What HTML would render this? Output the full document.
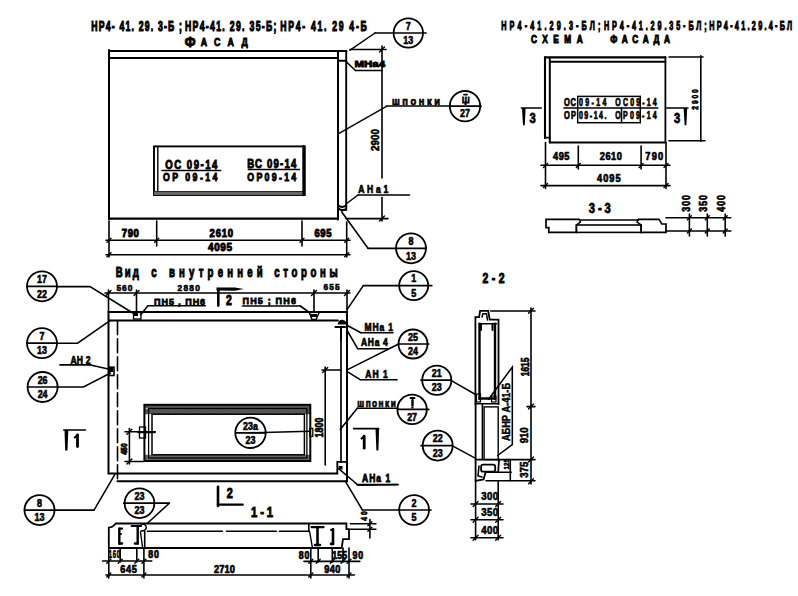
<!DOCTYPE html>
<html><head><meta charset="utf-8"><style>
html,body{margin:0;padding:0;background:#fff;}
svg{display:block;}
text{font-family:"Liberation Sans",sans-serif;font-weight:bold;fill:#000;}
</style></head><body>
<svg width="798" height="596" viewBox="0 0 798 596" stroke="#000" stroke-linecap="round" fill="none">
<rect x="0" y="0" width="798" height="596" fill="#fff" stroke="none"/>
<text x="0" y="0" font-size="14" text-anchor="middle" stroke-width="1.1" textLength="146.1" lengthAdjust="spacing" transform="translate(136.6 26.0) translate(0 4.90) scale(0.62 1)">НР4- 41. 29. 3-Б ;</text>
<text x="0" y="0" font-size="14" text-anchor="middle" stroke-width="1.1" textLength="147.6" lengthAdjust="spacing" transform="translate(230.7 26.0) translate(0 4.90) scale(0.62 1)">НР4-41. 29. 35-Б;</text>
<text x="0" y="0" font-size="14" text-anchor="middle" stroke-width="1.1" textLength="139.4" lengthAdjust="spacing" transform="translate(323.5 26.0) translate(0 4.90) scale(0.62 1)">НР4- 41. 29 4-Б</text>
<text x="0" y="0" font-size="14" text-anchor="middle" stroke-width="1" textLength="11.1" lengthAdjust="spacing" transform="translate(190.0 42.0) translate(0 4.90) scale(0.9 1)">Ф</text>
<text x="0" y="0" font-size="11" text-anchor="middle" stroke-width="0.9" textLength="58.8" lengthAdjust="spacing" transform="translate(224.2 42.6) translate(0 3.85) scale(0.8 1)">АСАД</text>
<line x1="109.0" y1="51.0" x2="346.5" y2="51.0" stroke-width="2"/>
<line x1="109.0" y1="57.9" x2="338.0" y2="57.9" stroke-width="2"/>
<line x1="109.0" y1="50.0" x2="109.0" y2="219.6" stroke-width="2"/>
<line x1="109.0" y1="218.6" x2="338.0" y2="218.6" stroke-width="2.2"/>
<line x1="338.0" y1="51.0" x2="338.0" y2="219.6" stroke-width="2"/>
<line x1="346.2" y1="51.0" x2="346.2" y2="210.0" stroke-width="1.9"/>
<path d="M338,205.3 Q342,208.6 346.3,205.3" stroke-width="1.8" fill="none"/>
<path d="M338.5,208.6 Q342,211.2 346,209.3" stroke-width="2.2" fill="none"/>
<rect x="154.0" y="146.4" width="150.8" height="48.6" stroke-width="1.9" fill="none"/>
<line x1="157.8" y1="146.4" x2="157.8" y2="195.0" stroke-width="1.4"/>
<line x1="154.0" y1="191.6" x2="304.8" y2="191.6" stroke-width="1.4"/>
<rect x="154.0" y="191.6" width="150.8" height="3.4" stroke="none" fill="#666"/>
<line x1="303.6" y1="146.4" x2="303.6" y2="195.0" stroke-width="2.6"/>
<text x="0" y="0" font-size="12" text-anchor="middle" stroke-width="0.9" textLength="65.2" lengthAdjust="spacing" transform="translate(191.3 164.5) translate(0 4.20) scale(0.8 1)">ОС 09-14</text>
<line x1="162.0" y1="170.5" x2="220.6" y2="170.5" stroke-width="1.5"/>
<text x="0" y="0" font-size="11" text-anchor="middle" stroke-width="0.9" textLength="68.0" lengthAdjust="spacing" transform="translate(190.2 176.7) translate(0 3.85) scale(0.8 1)">ОР 09-14</text>
<text x="0" y="0" font-size="12" text-anchor="middle" stroke-width="0.9" textLength="61.2" lengthAdjust="spacing" transform="translate(271.8 163.8) translate(0 4.20) scale(0.8 1)">ВС 09-14</text>
<line x1="248.3" y1="169.4" x2="299.5" y2="169.4" stroke-width="1.5"/>
<text x="0" y="0" font-size="11" text-anchor="middle" stroke-width="0.9" textLength="61.2" lengthAdjust="spacing" transform="translate(271.8 176.7) translate(0 3.85) scale(0.8 1)">ОР09-14</text>
<line x1="109.0" y1="221.3" x2="109.0" y2="257.0" stroke-width="1.6"/>
<line x1="156.7" y1="221.0" x2="156.7" y2="246.0" stroke-width="1.6"/>
<line x1="302.0" y1="221.0" x2="302.0" y2="246.0" stroke-width="1.6"/>
<line x1="346.7" y1="222.0" x2="346.7" y2="257.0" stroke-width="1.6"/>
<line x1="106.0" y1="240.2" x2="350.0" y2="240.2" stroke-width="1.6"/>
<line x1="106.0" y1="254.8" x2="350.0" y2="254.8" stroke-width="1.6"/>
<line x1="107.0" y1="242.2" x2="111.0" y2="238.2" stroke-width="1.4"/>
<line x1="154.7" y1="242.2" x2="158.7" y2="238.2" stroke-width="1.4"/>
<line x1="300.0" y1="242.2" x2="304.0" y2="238.2" stroke-width="1.4"/>
<line x1="344.7" y1="242.2" x2="348.7" y2="238.2" stroke-width="1.4"/>
<line x1="107.0" y1="256.8" x2="111.0" y2="252.8" stroke-width="1.4"/>
<line x1="344.7" y1="256.8" x2="348.7" y2="252.8" stroke-width="1.4"/>
<text x="0" y="0" font-size="10" text-anchor="middle" stroke-width="0.9" textLength="17.9" lengthAdjust="spacing" transform="translate(130.3 233.5) translate(0 3.50) scale(0.95 1)">790</text>
<text x="0" y="0" font-size="10" text-anchor="middle" stroke-width="0.9" textLength="24.7" lengthAdjust="spacing" transform="translate(221.3 233.5) translate(0 3.50) scale(0.95 1)">2610</text>
<text x="0" y="0" font-size="10" text-anchor="middle" stroke-width="0.9" textLength="17.9" lengthAdjust="spacing" transform="translate(323.0 233.5) translate(0 3.50) scale(0.95 1)">695</text>
<text x="0" y="0" font-size="10.5" text-anchor="middle" stroke-width="0.9" textLength="25.3" lengthAdjust="spacing" transform="translate(220.0 247.7) translate(0 3.67) scale(0.95 1)">4095</text>
<line x1="350.0" y1="49.5" x2="386.0" y2="49.5" stroke-width="1.6"/>
<line x1="346.0" y1="218.6" x2="388.0" y2="218.6" stroke-width="1.6"/>
<line x1="382.0" y1="46.0" x2="382.0" y2="178.0" stroke-width="1.6"/>
<line x1="382.0" y1="197.5" x2="382.0" y2="221.0" stroke-width="1.6"/>
<line x1="379.5" y1="52.0" x2="384.5" y2="47.0" stroke-width="1.4"/>
<line x1="379.5" y1="221.1" x2="384.5" y2="216.1" stroke-width="1.4"/>
<text x="0" y="0" font-size="11" text-anchor="middle" stroke-width="0.6" textLength="25.0" lengthAdjust="spacing" transform="translate(375.6 140.0) rotate(-90) translate(0 3.85) scale(0.88 1)">2900</text>
<circle cx="408.3" cy="33.0" r="14.7" stroke-width="1.8" fill="none"/>
<line x1="375.0" y1="33.0" x2="426.0" y2="33.0" stroke-width="1.7"/>
<text x="0" y="0" font-size="10.5" text-anchor="middle" stroke-width="0.6" transform="translate(408.3 26.2) translate(0 3.67) scale(0.85 1)">7</text>
<text x="0" y="0" font-size="10.5" text-anchor="middle" stroke-width="0.6" transform="translate(408.3 40.6) translate(0 3.67) scale(0.85 1)">13</text>
<line x1="375.0" y1="33.0" x2="350.0" y2="50.2" stroke-width="1.5"/>
<text x="0" y="0" font-size="9.5" text-anchor="middle" stroke-width="0.9" textLength="30.5" lengthAdjust="spacingAndGlyphs" transform="translate(369.8 63.3) translate(0 3.32) scale(1 1)">МНа4</text>
<line x1="338.0" y1="60.8" x2="346.2" y2="60.8" stroke-width="2"/>
<line x1="355.5" y1="70.5" x2="382.0" y2="70.5" stroke-width="1.6"/>
<line x1="355.5" y1="70.5" x2="346.0" y2="61.5" stroke-width="1.55"/>
<text x="0" y="0" font-size="11" text-anchor="middle" stroke-width="0.7" textLength="56.5" lengthAdjust="spacing" transform="translate(416.0 100.7) translate(0 3.85) scale(0.85 1)">шпонки</text>
<line x1="386.5" y1="106.0" x2="450.0" y2="106.0" stroke-width="1.6"/>
<line x1="386.5" y1="106.3" x2="338.2" y2="133.8" stroke-width="1.4"/>
<circle cx="465.0" cy="106.2" r="15.2" stroke-width="1.8" fill="none"/>
<line x1="450.0" y1="106.2" x2="481.0" y2="106.2" stroke-width="1.7"/>
<text x="0" y="0" font-size="10.5" text-anchor="middle" stroke-width="0.6" transform="translate(465.0 99.4) translate(0 3.67) scale(0.85 1)"></text>
<text x="0" y="0" font-size="10.5" text-anchor="middle" stroke-width="0.6" transform="translate(465.0 113.8) translate(0 3.67) scale(0.85 1)">27</text>
<text x="0" y="0" font-size="9.5" text-anchor="middle" stroke-width="0.8" textLength="9.0" lengthAdjust="spacing" transform="translate(465.8 99.8) translate(0 3.32) scale(0.8 1)">Ш</text>
<line x1="464.0" y1="94.6" x2="467.0" y2="94.6" stroke-width="1.8"/>
<rect x="464.5" y="103.0" width="2.0" height="2.0" stroke="none" fill="#000"/>
<text x="0" y="0" font-size="10" text-anchor="middle" stroke-width="0.7" textLength="35.3" lengthAdjust="spacing" transform="translate(373.2 189.3) translate(0 3.50) scale(0.85 1)">АНа1</text>
<line x1="358.0" y1="195.0" x2="409.5" y2="195.0" stroke-width="1.6"/>
<line x1="358.0" y1="195.0" x2="346.0" y2="204.0" stroke-width="1.55"/>
<circle cx="411.0" cy="248.3" r="15" stroke-width="1.8" fill="none"/>
<line x1="368.0" y1="248.3" x2="426.0" y2="248.3" stroke-width="1.7"/>
<text x="0" y="0" font-size="10.5" text-anchor="middle" stroke-width="0.6" transform="translate(411.0 241.5) translate(0 3.67) scale(0.85 1)">8</text>
<text x="0" y="0" font-size="10.5" text-anchor="middle" stroke-width="0.6" transform="translate(411.0 255.9) translate(0 3.67) scale(0.85 1)">13</text>
<line x1="368.0" y1="248.3" x2="341.6" y2="211.8" stroke-width="1.55"/>
<text x="0" y="0" font-size="12.5" text-anchor="middle" stroke-width="1" textLength="170.7" lengthAdjust="spacing" transform="translate(550.8 25.5) translate(0 4.38) scale(0.58 1)">НР4-41.29.3-БЛ;</text>
<text x="0" y="0" font-size="12.5" text-anchor="middle" stroke-width="1" textLength="177.1" lengthAdjust="spacing" transform="translate(655.3 25.5) translate(0 4.38) scale(0.58 1)">НР4-41.29.35-БЛ;</text>
<text x="0" y="0" font-size="12.5" text-anchor="middle" stroke-width="1" textLength="143.1" lengthAdjust="spacing" transform="translate(750.7 25.5) translate(0 4.38) scale(0.58 1)">НР4-41.29.4-БЛ</text>
<text x="0" y="0" font-size="11.5" text-anchor="middle" stroke-width="1" textLength="71.8" lengthAdjust="spacing" transform="translate(556.8 39.3) translate(0 4.02) scale(0.72 1)">СХЕМА</text>
<text x="0" y="0" font-size="11.5" text-anchor="middle" stroke-width="1" textLength="82.9" lengthAdjust="spacing" transform="translate(640.2 39.3) translate(0 4.02) scale(0.72 1)">ФАСАДА</text>
<line x1="545.0" y1="57.4" x2="665.4" y2="57.4" stroke-width="2.1"/>
<line x1="550.0" y1="61.8" x2="665.4" y2="61.8" stroke-width="2"/>
<line x1="545.0" y1="57.4" x2="545.0" y2="138.0" stroke-width="2.1"/>
<line x1="549.8" y1="57.4" x2="549.8" y2="142.5" stroke-width="2"/>
<line x1="545.0" y1="137.7" x2="549.8" y2="137.7" stroke-width="1.8"/>
<line x1="665.4" y1="57.0" x2="665.4" y2="142.5" stroke-width="1.8"/>
<line x1="550.0" y1="142.5" x2="665.4" y2="142.5" stroke-width="1.8"/>
<line x1="669.0" y1="57.0" x2="703.0" y2="57.0" stroke-width="1.6"/>
<line x1="669.0" y1="140.7" x2="705.0" y2="140.7" stroke-width="1.6"/>
<line x1="700.8" y1="55.7" x2="700.8" y2="141.3" stroke-width="1.6"/>
<text x="0" y="0" font-size="8.5" text-anchor="middle" stroke-width="0.7" textLength="25.6" lengthAdjust="spacing" transform="translate(694.8 99.4) rotate(-90) translate(0 2.97) scale(0.8 1)">2900</text>
<rect x="577.7" y="96.4" width="62.6" height="26.3" stroke-width="1.5" fill="none"/>
<line x1="621.5" y1="108.0" x2="621.5" y2="122.7" stroke-width="1.55"/>
<line x1="563.9" y1="108.1" x2="657.9" y2="108.1" stroke-width="1.5"/>
<text x="0" y="0" font-size="10" text-anchor="middle" stroke-width="0.7" textLength="16.0" lengthAdjust="spacing" transform="translate(570.0 102.6) translate(0 3.50) scale(0.75 1)">ОС</text>
<text x="0" y="0" font-size="10" text-anchor="middle" stroke-width="0.7" textLength="39.4" lengthAdjust="spacing" transform="translate(592.7 102.6) translate(0 3.50) scale(0.7 1)">09-14</text>
<text x="0" y="0" font-size="10" text-anchor="middle" stroke-width="0.7" textLength="59.0" lengthAdjust="spacing" transform="translate(636.0 102.6) translate(0 3.50) scale(0.7 1)">ОС09-14</text>
<text x="0" y="0" font-size="10" text-anchor="middle" stroke-width="0.7" textLength="16.0" lengthAdjust="spacing" transform="translate(570.0 115.7) translate(0 3.50) scale(0.75 1)">ОР</text>
<text x="0" y="0" font-size="10" text-anchor="middle" stroke-width="0.7" textLength="39.4" lengthAdjust="spacing" transform="translate(592.7 115.7) translate(0 3.50) scale(0.7 1)">09-14.</text>
<text x="0" y="0" font-size="10" text-anchor="middle" stroke-width="0.7" textLength="59.0" lengthAdjust="spacing" transform="translate(636.0 115.7) translate(0 3.50) scale(0.7 1)">ОР09-14</text>
<line x1="521.3" y1="108.1" x2="541.3" y2="108.1" stroke-width="1.5"/>
<path d="M522,108 L525.6,108 L524.8,125.2 L523,125.2 Z" fill="#000" stroke="none"/>
<text x="0" y="0" font-size="14" text-anchor="middle" stroke-width="0.8" textLength="8.8" lengthAdjust="spacing" transform="translate(532.5 117.7) translate(0 4.90) scale(0.8 1)">3</text>
<line x1="666.6" y1="108.1" x2="688.0" y2="108.1" stroke-width="1.5"/>
<path d="M683.6,108 L687.2,108 L686.4,125.2 L684.6,125.2 Z" fill="#000" stroke="none"/>
<text x="0" y="0" font-size="14" text-anchor="middle" stroke-width="0.8" textLength="8.8" lengthAdjust="spacing" transform="translate(677.0 117.7) translate(0 4.90) scale(0.8 1)">3</text>
<line x1="545.5" y1="142.5" x2="545.5" y2="188.5" stroke-width="1.6"/>
<line x1="578.3" y1="146.0" x2="578.3" y2="169.0" stroke-width="1.6"/>
<line x1="641.1" y1="146.0" x2="641.1" y2="169.0" stroke-width="1.6"/>
<line x1="666.0" y1="142.5" x2="666.0" y2="188.5" stroke-width="1.6"/>
<line x1="541.0" y1="165.2" x2="670.0" y2="165.2" stroke-width="1.6"/>
<line x1="541.0" y1="185.6" x2="670.0" y2="185.6" stroke-width="1.6"/>
<line x1="543.5" y1="167.4" x2="547.5" y2="163.4" stroke-width="1.4"/>
<line x1="576.3" y1="167.4" x2="580.3" y2="163.4" stroke-width="1.4"/>
<line x1="639.1" y1="167.4" x2="643.1" y2="163.4" stroke-width="1.4"/>
<line x1="664.0" y1="167.4" x2="668.0" y2="163.4" stroke-width="1.4"/>
<line x1="543.5" y1="187.6" x2="547.5" y2="183.6" stroke-width="1.4"/>
<line x1="664.0" y1="187.6" x2="668.0" y2="183.6" stroke-width="1.4"/>
<text x="0" y="0" font-size="10.5" text-anchor="middle" stroke-width="0.7" textLength="18.9" lengthAdjust="spacing" transform="translate(561.2 156.5) translate(0 3.67) scale(0.88 1)">495</text>
<text x="0" y="0" font-size="10.5" text-anchor="middle" stroke-width="0.7" textLength="25.0" lengthAdjust="spacing" transform="translate(610.8 156.5) translate(0 3.67) scale(0.88 1)">2610</text>
<text x="0" y="0" font-size="10.5" text-anchor="middle" stroke-width="0.7" textLength="20.3" lengthAdjust="spacing" transform="translate(654.2 156.5) translate(0 3.67) scale(0.88 1)">790</text>
<text x="0" y="0" font-size="10.5" text-anchor="middle" stroke-width="0.7" textLength="26.7" lengthAdjust="spacing" transform="translate(608.8 178.6) translate(0 3.67) scale(0.88 1)">4095</text>
<text x="0" y="0" font-size="14" text-anchor="middle" stroke-width="0.8" textLength="27.5" lengthAdjust="spacing" transform="translate(599.8 208.2) translate(0 4.90) scale(0.8 1)">3-3</text>
<polyline points="579.1,219.4 546.0,219.4 546.0,227.7 548.8,227.7 548.8,232.4 576.4,232.4" stroke-width="1.7" fill="none"/>
<polyline points="579.1,219.4 580.5,222.0 576.4,225.0 576.4,232.4" stroke-width="1.5" fill="none"/>
<line x1="580.5" y1="220.0" x2="638.5" y2="220.0" stroke-width="1.4"/>
<rect x="576.4" y="225.0" width="64.7" height="7.4" stroke-width="1.6" fill="none"/>
<polyline points="638.5,219.4 659.0,219.4 661.8,224.0 666.0,224.0 666.0,232.4 641.1,232.4" stroke-width="1.7" fill="none"/>
<polyline points="638.5,219.4 637.0,222.0 641.1,225.0 641.1,232.4" stroke-width="1.5" fill="none"/>
<line x1="666.0" y1="217.7" x2="730.8" y2="217.7" stroke-width="1.6"/>
<line x1="666.0" y1="231.0" x2="730.8" y2="231.0" stroke-width="1.6"/>
<line x1="689.4" y1="214.0" x2="689.4" y2="236.0" stroke-width="1.6"/>
<line x1="687.4" y1="219.7" x2="691.4" y2="215.7" stroke-width="1.4"/>
<line x1="687.4" y1="233.0" x2="691.4" y2="229.0" stroke-width="1.4"/>
<line x1="707.3" y1="214.0" x2="707.3" y2="236.0" stroke-width="1.6"/>
<line x1="705.3" y1="219.7" x2="709.3" y2="215.7" stroke-width="1.4"/>
<line x1="705.3" y1="233.0" x2="709.3" y2="229.0" stroke-width="1.4"/>
<line x1="725.2" y1="214.0" x2="725.2" y2="236.0" stroke-width="1.6"/>
<line x1="723.2" y1="219.7" x2="727.2" y2="215.7" stroke-width="1.4"/>
<line x1="723.2" y1="233.0" x2="727.2" y2="229.0" stroke-width="1.4"/>
<text x="0" y="0" font-size="10" text-anchor="middle" stroke-width="0.7" textLength="18.8" lengthAdjust="spacing" transform="translate(686.1 203.4) rotate(-90) translate(0 3.50) scale(0.88 1)">300</text>
<text x="0" y="0" font-size="10" text-anchor="middle" stroke-width="0.7" textLength="18.8" lengthAdjust="spacing" transform="translate(703.7 203.4) rotate(-90) translate(0 3.50) scale(0.88 1)">350</text>
<text x="0" y="0" font-size="10" text-anchor="middle" stroke-width="0.7" textLength="18.8" lengthAdjust="spacing" transform="translate(721.9 203.4) rotate(-90) translate(0 3.50) scale(0.88 1)">400</text>
<text x="0" y="0" font-size="15.5" text-anchor="middle" stroke-width="1.1" textLength="37.1" lengthAdjust="spacing" transform="translate(127.3 271.2) translate(0 5.42) scale(0.62 1)">Вид</text>
<text x="0" y="0" font-size="15.5" text-anchor="middle" stroke-width="1.1" textLength="11.6" lengthAdjust="spacing" transform="translate(153.9 271.2) translate(0 5.42) scale(0.62 1)">с</text>
<text x="0" y="0" font-size="15.5" text-anchor="middle" stroke-width="1.1" textLength="151.1" lengthAdjust="spacing" transform="translate(215.8 271.2) translate(0 5.42) scale(0.62 1)">внутренней</text>
<text x="0" y="0" font-size="15.5" text-anchor="middle" stroke-width="1.1" textLength="102.3" lengthAdjust="spacing" transform="translate(306.0 271.2) translate(0 5.42) scale(0.62 1)">стороны</text>
<line x1="108.5" y1="312.0" x2="347.0" y2="312.0" stroke-width="2"/>
<line x1="109.0" y1="320.5" x2="338.0" y2="320.5" stroke-width="1.8"/>
<line x1="108.5" y1="312.0" x2="108.5" y2="473.5" stroke-width="2"/>
<line x1="117.5" y1="320.7" x2="117.5" y2="481.3" stroke-width="1.6" stroke-dasharray="14 4"/>
<line x1="108.5" y1="473.5" x2="337.3" y2="473.5" stroke-width="2"/>
<line x1="117.5" y1="481.3" x2="347.0" y2="481.3" stroke-width="2"/>
<line x1="347.0" y1="312.0" x2="347.0" y2="481.3" stroke-width="2"/>
<line x1="341.0" y1="328.0" x2="341.0" y2="462.0" stroke-width="1.7"/>
<polyline points="347.0,461.9 337.3,461.9 337.3,473.5" stroke-width="1.8" fill="none"/>
<rect x="338.5" y="466.0" width="4.0" height="3.5" stroke="none" fill="#000"/>
<path d="M337.5,324.5 Q338.5,319.8 342,319.8 Q345.5,320 346.8,323.5 L346.8,324.5 Z" fill="#000" stroke="none"/>
<line x1="335.5" y1="327.0" x2="345.0" y2="327.0" stroke-width="2.2"/>
<line x1="341.0" y1="328.0" x2="341.0" y2="340.0" stroke-width="1.8"/>
<line x1="105.0" y1="293.0" x2="350.0" y2="293.0" stroke-width="1.6"/>
<line x1="108.5" y1="290.0" x2="108.5" y2="312.0" stroke-width="1.6"/>
<line x1="106.0" y1="295.5" x2="111.0" y2="290.5" stroke-width="1.4"/>
<line x1="136.5" y1="290.0" x2="136.5" y2="312.0" stroke-width="1.6"/>
<line x1="134.0" y1="295.5" x2="139.0" y2="290.5" stroke-width="1.4"/>
<line x1="314.0" y1="290.0" x2="314.0" y2="312.0" stroke-width="1.6"/>
<line x1="311.5" y1="295.5" x2="316.5" y2="290.5" stroke-width="1.4"/>
<line x1="347.0" y1="290.0" x2="347.0" y2="312.0" stroke-width="1.6"/>
<line x1="344.5" y1="295.5" x2="349.5" y2="290.5" stroke-width="1.4"/>
<text x="0" y="0" font-size="9.5" text-anchor="middle" stroke-width="0.6" textLength="18.2" lengthAdjust="spacing" transform="translate(124.4 287.8) translate(0 3.32) scale(0.88 1)">560</text>
<text x="0" y="0" font-size="9.5" text-anchor="middle" stroke-width="0.6" textLength="25.6" lengthAdjust="spacing" transform="translate(188.7 287.8) translate(0 3.32) scale(0.88 1)">2880</text>
<text x="0" y="0" font-size="9.5" text-anchor="middle" stroke-width="0.6" textLength="18.2" lengthAdjust="spacing" transform="translate(331.6 287.0) translate(0 3.32) scale(0.88 1)">655</text>
<text x="0" y="0" font-size="9.5" text-anchor="middle" stroke-width="0.8" textLength="53.7" lengthAdjust="spacing" transform="translate(179.6 301.7) translate(0 3.32) scale(0.95 1)">ПН5 , ПН6</text>
<line x1="148.0" y1="305.8" x2="205.3" y2="305.8" stroke-width="1.6"/>
<line x1="148.0" y1="305.8" x2="140.6" y2="314.8" stroke-width="1.55"/>
<rect x="133.5" y="312.5" width="7.5" height="6.5" stroke-width="1.3" fill="none"/>
<rect x="134.0" y="312.5" width="4.0" height="3.5" stroke="none" fill="#000"/>
<text x="0" y="0" font-size="9.5" text-anchor="middle" stroke-width="0.8" textLength="56.3" lengthAdjust="spacing" transform="translate(269.2 300.8) translate(0 3.32) scale(0.95 1)">ПН5 ; ПН6</text>
<line x1="242.5" y1="306.0" x2="300.4" y2="306.0" stroke-width="1.6"/>
<line x1="300.4" y1="306.0" x2="310.0" y2="313.0" stroke-width="1.55"/>
<polyline points="309.5,313.0 312.0,319.5 316.0,319.5 319.0,313.0" stroke-width="1.5" fill="none"/>
<rect x="311.0" y="314.0" width="6.0" height="3.0" stroke="none" fill="#000"/>
<line x1="218.3" y1="289.0" x2="218.3" y2="305.6" stroke-width="2.6"/>
<path d="M216.5,287.4 L235,287.6 L243.7,289 L235,290.8 L216.5,290.6 Z" fill="#000" stroke="none"/>
<text x="0" y="0" font-size="14.5" text-anchor="middle" stroke-width="1" textLength="9.0" lengthAdjust="spacing" transform="translate(229.0 300.1) translate(0 5.07) scale(0.72 1)">2</text>
<circle cx="42.0" cy="286.3" r="15" stroke-width="1.8" fill="none"/>
<line x1="27.0" y1="286.3" x2="57.0" y2="286.3" stroke-width="1.7"/>
<text x="0" y="0" font-size="10.5" text-anchor="middle" stroke-width="0.6" transform="translate(42.0 279.5) translate(0 3.67) scale(0.85 1)">17</text>
<text x="0" y="0" font-size="10.5" text-anchor="middle" stroke-width="0.6" transform="translate(42.0 293.9) translate(0 3.67) scale(0.85 1)">22</text>
<polyline points="57.0,286.6 90.0,286.6 132.8,313.0" stroke-width="1.55" fill="none"/>
<circle cx="42.0" cy="343.2" r="15" stroke-width="1.8" fill="none"/>
<line x1="27.0" y1="343.2" x2="57.0" y2="343.2" stroke-width="1.7"/>
<text x="0" y="0" font-size="10.5" text-anchor="middle" stroke-width="0.6" transform="translate(42.0 336.4) translate(0 3.67) scale(0.85 1)">7</text>
<text x="0" y="0" font-size="10.5" text-anchor="middle" stroke-width="0.6" transform="translate(42.0 350.8) translate(0 3.67) scale(0.85 1)">13</text>
<polyline points="57.0,343.2 77.6,343.2 110.0,320.7" stroke-width="1.55" fill="none"/>
<text x="0" y="0" font-size="10" text-anchor="middle" stroke-width="0.7" textLength="23.5" lengthAdjust="spacing" transform="translate(80.5 360.2) translate(0 3.50) scale(0.85 1)">АН 2</text>
<line x1="60.0" y1="364.9" x2="90.5" y2="364.9" stroke-width="1.6"/>
<line x1="90.5" y1="364.9" x2="110.5" y2="369.6" stroke-width="1.55"/>
<rect x="109.3" y="367.2" width="4.7" height="8.3" stroke-width="1.6" fill="none"/>
<rect x="110.0" y="368.0" width="3.0" height="4.0" stroke="none" fill="#000"/>
<circle cx="42.6" cy="387.0" r="15" stroke-width="1.8" fill="none"/>
<line x1="27.6" y1="387.0" x2="57.6" y2="387.0" stroke-width="1.7"/>
<text x="0" y="0" font-size="10.5" text-anchor="middle" stroke-width="0.6" transform="translate(42.6 380.2) translate(0 3.67) scale(0.85 1)">26</text>
<text x="0" y="0" font-size="10.5" text-anchor="middle" stroke-width="0.6" transform="translate(42.6 394.6) translate(0 3.67) scale(0.85 1)">24</text>
<polyline points="57.6,387.0 83.5,387.0 110.5,373.0" stroke-width="1.55" fill="none"/>
<line x1="63.7" y1="430.0" x2="85.5" y2="430.0" stroke-width="1.5"/>
<path d="M64.5,430 L68.3,430 L67.5,450.5 L65.2,450.5 Z" fill="#000" stroke="none"/>
<line x1="77.5" y1="435.0" x2="77.5" y2="446.5" stroke-width="2.8"/>
<line x1="74.8" y1="437.5" x2="77.5" y2="435.0" stroke-width="2"/>
<rect x="144.4" y="404.8" width="165.9" height="9.4" stroke="none" fill="#555"/>
<rect x="144.4" y="454.8" width="165.9" height="6.2" stroke="none" fill="#666"/>
<line x1="146" y1="408.6" x2="308.5" y2="408.6" stroke="#fff" stroke-width="0.7" stroke-dasharray="6 3 2 4"/>
<rect x="144.4" y="404.8" width="165.9" height="56.2" stroke-width="2" fill="none"/>
<rect x="148.6" y="408.5" width="158.3" height="49.5" stroke-width="1.3" fill="none"/>
<rect x="152.0" y="414.2" width="152.4" height="40.6" stroke-width="1.5" fill="none"/>
<circle cx="250.5" cy="432.8" r="15.2" stroke-width="1.8" fill="none"/>
<line x1="236.0" y1="432.8" x2="265.0" y2="432.8" stroke-width="1.7"/>
<text x="0" y="0" font-size="10.5" text-anchor="middle" stroke-width="0.6" transform="translate(250.5 426.0) translate(0 3.67) scale(0.85 1)">23а</text>
<text x="0" y="0" font-size="10.5" text-anchor="middle" stroke-width="0.6" transform="translate(250.5 440.4) translate(0 3.67) scale(0.85 1)">23</text>
<line x1="250.5" y1="432.8" x2="310.0" y2="431.2" stroke-width="1.6"/>
<rect x="309.8" y="428.4" width="3.0" height="8.0" stroke-width="1.3" fill="none"/>
<rect x="139.5" y="427.0" width="6.0" height="11.0" stroke-width="1.3" fill="none"/>
<line x1="138.0" y1="432.5" x2="155.0" y2="432.5" stroke-width="1.55"/>
<line x1="129.4" y1="428.5" x2="129.4" y2="464.0" stroke-width="1.6"/>
<line x1="125.0" y1="431.7" x2="155.3" y2="431.7" stroke-width="1.55"/>
<line x1="125.0" y1="461.5" x2="144.0" y2="461.5" stroke-width="1.55"/>
<line x1="126.9" y1="434.2" x2="131.9" y2="429.2" stroke-width="1.4"/>
<line x1="126.9" y1="464.0" x2="131.9" y2="459.0" stroke-width="1.4"/>
<text x="0" y="0" font-size="9.5" text-anchor="middle" stroke-width="0.8" textLength="16.0" lengthAdjust="spacing" transform="translate(124.0 449.0) rotate(-90) translate(0 3.32) scale(0.72 1)">450</text>
<line x1="325.2" y1="367.0" x2="325.2" y2="465.0" stroke-width="1.6"/>
<line x1="322.0" y1="370.0" x2="341.0" y2="370.0" stroke-width="1.55"/>
<line x1="322.7" y1="372.5" x2="327.7" y2="367.5" stroke-width="1.4"/>
<text x="0" y="0" font-size="11" text-anchor="middle" stroke-width="0.7" textLength="25.0" lengthAdjust="spacing" transform="translate(319.3 427.5) rotate(-90) translate(0 3.85) scale(0.8 1)">1800</text>
<circle cx="413.7" cy="285.6" r="14.5" stroke-width="1.8" fill="none"/>
<line x1="363.3" y1="285.6" x2="431.8" y2="285.6" stroke-width="1.7"/>
<text x="0" y="0" font-size="10.5" text-anchor="middle" stroke-width="0.6" transform="translate(413.7 278.8) translate(0 3.67) scale(0.85 1)">1</text>
<text x="0" y="0" font-size="10.5" text-anchor="middle" stroke-width="0.6" transform="translate(413.7 293.2) translate(0 3.67) scale(0.85 1)">5</text>
<line x1="363.3" y1="285.6" x2="347.2" y2="309.4" stroke-width="1.6"/>
<text x="0" y="0" font-size="10" text-anchor="middle" stroke-width="0.7" textLength="33.6" lengthAdjust="spacing" transform="translate(378.7 327.7) translate(0 3.50) scale(0.85 1)">МНа 1</text>
<line x1="361.0" y1="332.7" x2="393.0" y2="332.7" stroke-width="1.6"/>
<line x1="361.0" y1="332.7" x2="346.8" y2="325.2" stroke-width="1.55"/>
<text x="0" y="0" font-size="10" text-anchor="middle" stroke-width="0.7" textLength="31.6" lengthAdjust="spacing" transform="translate(374.4 342.0) translate(0 3.50) scale(0.85 1)">АНа 4</text>
<line x1="357.7" y1="348.7" x2="387.9" y2="348.7" stroke-width="1.6"/>
<line x1="357.7" y1="348.7" x2="346.8" y2="330.0" stroke-width="1.55"/>
<circle cx="413.0" cy="344.0" r="14.5" stroke-width="1.8" fill="none"/>
<line x1="398.6" y1="344.0" x2="428.8" y2="344.0" stroke-width="1.7"/>
<text x="0" y="0" font-size="10.5" text-anchor="middle" stroke-width="0.6" transform="translate(413.0 337.2) translate(0 3.67) scale(0.85 1)">25</text>
<text x="0" y="0" font-size="10.5" text-anchor="middle" stroke-width="0.6" transform="translate(413.0 351.6) translate(0 3.67) scale(0.85 1)">24</text>
<line x1="398.6" y1="344.0" x2="347.6" y2="369.6" stroke-width="1.55"/>
<text x="0" y="0" font-size="10" text-anchor="middle" stroke-width="0.7" textLength="26.7" lengthAdjust="spacing" transform="translate(376.5 374.7) translate(0 3.50) scale(0.85 1)">АН 1</text>
<line x1="360.2" y1="379.7" x2="397.1" y2="379.7" stroke-width="1.6"/>
<line x1="360.2" y1="379.7" x2="346.8" y2="371.3" stroke-width="1.55"/>
<text x="0" y="0" font-size="11" text-anchor="middle" stroke-width="0.7" textLength="51.3" lengthAdjust="spacing" transform="translate(376.5 403.3) translate(0 3.85) scale(0.75 1)">шпонки</text>
<line x1="357.3" y1="408.3" x2="398.0" y2="408.3" stroke-width="1.6"/>
<line x1="357.3" y1="408.3" x2="340.2" y2="429.4" stroke-width="1.55"/>
<circle cx="412.1" cy="409.4" r="14.7" stroke-width="1.8" fill="none"/>
<line x1="398.0" y1="409.4" x2="428.8" y2="409.4" stroke-width="1.7"/>
<text x="0" y="0" font-size="10.5" text-anchor="middle" stroke-width="0.6" transform="translate(412.1 402.6) translate(0 3.67) scale(0.85 1)"></text>
<text x="0" y="0" font-size="10.5" text-anchor="middle" stroke-width="0.6" transform="translate(412.1 417.0) translate(0 3.67) scale(0.85 1)">27</text>
<line x1="412.5" y1="400.0" x2="412.5" y2="405.3" stroke-width="2.4"/>
<line x1="410.5" y1="398.0" x2="414.5" y2="398.0" stroke-width="1.8"/>
<rect x="411.3" y="406.5" width="2.2" height="2.0" stroke="none" fill="#000"/>
<line x1="353.7" y1="428.6" x2="378.6" y2="428.6" stroke-width="1.8"/>
<path d="M375.5,428.4 L379.1,428.4 L378.4,450.5 L376.4,450.5 Z" fill="#000" stroke="none"/>
<line x1="364.2" y1="436.1" x2="364.2" y2="448.2" stroke-width="2.8"/>
<line x1="361.5" y1="438.6" x2="364.2" y2="436.1" stroke-width="2"/>
<text x="0" y="0" font-size="10" text-anchor="middle" stroke-width="0.8" textLength="33.2" lengthAdjust="spacing" transform="translate(376.1 478.8) translate(0 3.50) scale(0.85 1)">АНа 1</text>
<line x1="356.6" y1="484.6" x2="398.0" y2="484.6" stroke-width="1.6"/>
<polyline points="398.0,484.6 358.3,485.3 338.6,468.7" stroke-width="1.55" fill="none"/>
<circle cx="414.1" cy="510.0" r="14.9" stroke-width="1.8" fill="none"/>
<line x1="362.4" y1="510.0" x2="431.0" y2="510.0" stroke-width="1.7"/>
<text x="0" y="0" font-size="10.5" text-anchor="middle" stroke-width="0.6" transform="translate(414.1 503.2) translate(0 3.67) scale(0.85 1)">2</text>
<text x="0" y="0" font-size="10.5" text-anchor="middle" stroke-width="0.6" transform="translate(414.1 517.6) translate(0 3.67) scale(0.85 1)">5</text>
<polyline points="362.4,510.0 345.4,481.3" stroke-width="1.55" fill="none"/>
<circle cx="39.5" cy="510.1" r="15" stroke-width="1.8" fill="none"/>
<line x1="24.5" y1="510.1" x2="54.5" y2="510.1" stroke-width="1.7"/>
<text x="0" y="0" font-size="10.5" text-anchor="middle" stroke-width="0.6" transform="translate(39.5 503.3) translate(0 3.67) scale(0.85 1)">8</text>
<text x="0" y="0" font-size="10.5" text-anchor="middle" stroke-width="0.6" transform="translate(39.5 517.7) translate(0 3.67) scale(0.85 1)">13</text>
<polyline points="54.5,510.1 94.0,510.1 115.2,473.8" stroke-width="1.55" fill="none"/>
<line x1="218.0" y1="486.7" x2="218.0" y2="506.0" stroke-width="2.6"/>
<line x1="218.0" y1="504.7" x2="242.7" y2="504.7" stroke-width="2.3"/>
<text x="0" y="0" font-size="15" text-anchor="middle" stroke-width="1" textLength="9.0" lengthAdjust="spacing" transform="translate(229.7 492.8) translate(0 5.25) scale(0.72 1)">2</text>
<text x="0" y="0" font-size="14" text-anchor="middle" stroke-width="0.9" textLength="27.5" lengthAdjust="spacing" transform="translate(262.0 512.0) translate(0 4.90) scale(0.8 1)">1-1</text>
<circle cx="139.5" cy="503.2" r="14.9" stroke-width="1.8" fill="none"/>
<line x1="123.7" y1="503.2" x2="169.3" y2="503.2" stroke-width="1.7"/>
<text x="0" y="0" font-size="10.5" text-anchor="middle" stroke-width="0.6" transform="translate(139.5 496.4) translate(0 3.67) scale(0.85 1)">23</text>
<text x="0" y="0" font-size="10.5" text-anchor="middle" stroke-width="0.6" transform="translate(139.5 510.8) translate(0 3.67) scale(0.85 1)">23</text>
<line x1="169.3" y1="503.2" x2="147.4" y2="523.3" stroke-width="1.55"/>
<path d="M115.8,523.5 H346.4 V529.2 H349 V539.2 H343 L341.7,548 H108.8 V527.7 Q113,527.2 115.8,523.5 Z" stroke-width="1.8" fill="none"/>
<line x1="147.4" y1="531.2" x2="308.8" y2="531.2" stroke-width="1.5" stroke-dasharray="75 4 50 3"/>
<line x1="144.7" y1="531.5" x2="144.7" y2="548.0" stroke-width="1.6"/>
<path d="M141,524 C148,523.5 148,531 141,531" stroke-width="1.5" fill="none"/>
<line x1="308.8" y1="524.0" x2="308.8" y2="531.2" stroke-width="1.6"/>
<line x1="309.5" y1="531.2" x2="312.5" y2="548.0" stroke-width="1.4"/>
<line x1="119.3" y1="528.6" x2="119.3" y2="543.5" stroke-width="2.4"/>
<line x1="119.3" y1="528.6" x2="122.0" y2="528.6" stroke-width="2.2"/>
<line x1="119.3" y1="543.5" x2="122.0" y2="543.5" stroke-width="2.4"/>
<line x1="119.3" y1="534.0" x2="121.0" y2="534.0" stroke-width="2"/>
<line x1="131.6" y1="526.0" x2="141.2" y2="526.0" stroke-width="2"/>
<line x1="137.7" y1="526.0" x2="137.7" y2="543.5" stroke-width="2.4"/>
<line x1="135.0" y1="543.5" x2="137.7" y2="543.5" stroke-width="2.4"/>
<line x1="140.5" y1="532.0" x2="142.5" y2="547.0" stroke-width="1.4"/>
<line x1="311.5" y1="527.1" x2="323.6" y2="527.1" stroke-width="2.2"/>
<line x1="317.5" y1="527.1" x2="317.5" y2="545.0" stroke-width="2.6"/>
<line x1="315.0" y1="545.0" x2="320.0" y2="545.0" stroke-width="2.4"/>
<line x1="333.0" y1="529.2" x2="333.0" y2="543.9" stroke-width="2.6"/>
<line x1="331.0" y1="543.9" x2="333.0" y2="543.9" stroke-width="2.6"/>
<line x1="331.0" y1="530.0" x2="333.0" y2="529.2" stroke-width="2"/>
<line x1="108.8" y1="548.0" x2="108.8" y2="578.0" stroke-width="1.6"/>
<line x1="120.2" y1="548.0" x2="120.2" y2="562.0" stroke-width="1.6"/>
<line x1="136.8" y1="548.0" x2="136.8" y2="562.0" stroke-width="1.6"/>
<line x1="143.9" y1="548.0" x2="143.9" y2="578.0" stroke-width="1.6"/>
<line x1="310.8" y1="548.0" x2="310.8" y2="578.0" stroke-width="1.6"/>
<line x1="318.2" y1="548.0" x2="318.2" y2="562.0" stroke-width="1.6"/>
<line x1="332.3" y1="548.0" x2="332.3" y2="562.0" stroke-width="1.6"/>
<line x1="343.0" y1="548.0" x2="343.0" y2="562.0" stroke-width="1.6"/>
<line x1="349.0" y1="548.0" x2="349.0" y2="578.0" stroke-width="1.6"/>
<line x1="102.6" y1="561.0" x2="151.8" y2="561.0" stroke-width="1.6"/>
<line x1="106.0" y1="575.0" x2="354.4" y2="575.0" stroke-width="1.6"/>
<line x1="304.0" y1="561.4" x2="359.8" y2="561.4" stroke-width="1.6"/>
<line x1="106.8" y1="563.2" x2="110.8" y2="559.2" stroke-width="1.4"/>
<line x1="118.2" y1="563.2" x2="122.2" y2="559.2" stroke-width="1.4"/>
<line x1="134.8" y1="563.2" x2="138.8" y2="559.2" stroke-width="1.4"/>
<line x1="141.9" y1="563.2" x2="145.9" y2="559.2" stroke-width="1.4"/>
<line x1="308.8" y1="563.2" x2="312.8" y2="559.2" stroke-width="1.4"/>
<line x1="316.2" y1="563.2" x2="320.2" y2="559.2" stroke-width="1.4"/>
<line x1="330.3" y1="563.2" x2="334.3" y2="559.2" stroke-width="1.4"/>
<line x1="341.0" y1="563.2" x2="345.0" y2="559.2" stroke-width="1.4"/>
<line x1="347.0" y1="563.2" x2="351.0" y2="559.2" stroke-width="1.4"/>
<line x1="106.8" y1="577.0" x2="110.8" y2="573.0" stroke-width="1.4"/>
<line x1="141.9" y1="577.0" x2="145.9" y2="573.0" stroke-width="1.4"/>
<line x1="308.8" y1="577.0" x2="312.8" y2="573.0" stroke-width="1.4"/>
<line x1="347.0" y1="577.0" x2="351.0" y2="573.0" stroke-width="1.4"/>
<text x="0" y="0" font-size="10" text-anchor="middle" stroke-width="0.6" textLength="19.0" lengthAdjust="spacing" transform="translate(114.5 554.9) translate(0 3.50) scale(0.6 1)">160</text>
<text x="0" y="0" font-size="10" text-anchor="middle" stroke-width="0.7" textLength="12.0" lengthAdjust="spacing" transform="translate(153.5 554.9) translate(0 3.50) scale(0.88 1)">80</text>
<text x="0" y="0" font-size="10.5" text-anchor="middle" stroke-width="0.7" textLength="18.9" lengthAdjust="spacing" transform="translate(128.5 569.0) translate(0 3.67) scale(0.88 1)">645</text>
<text x="0" y="0" font-size="10.5" text-anchor="middle" stroke-width="0.7" textLength="23.9" lengthAdjust="spacing" transform="translate(224.5 569.0) translate(0 3.67) scale(0.88 1)">2710</text>
<text x="0" y="0" font-size="10" text-anchor="middle" stroke-width="0.7" textLength="12.0" lengthAdjust="spacing" transform="translate(304.1 555.3) translate(0 3.50) scale(0.88 1)">80</text>
<text x="0" y="0" font-size="10" text-anchor="middle" stroke-width="0.7" textLength="16.7" lengthAdjust="spacing" transform="translate(339.7 555.3) translate(0 3.50) scale(0.88 1)">155</text>
<text x="0" y="0" font-size="10" text-anchor="middle" stroke-width="0.7" textLength="12.0" lengthAdjust="spacing" transform="translate(357.8 555.3) translate(0 3.50) scale(0.88 1)">90</text>
<text x="0" y="0" font-size="10.5" text-anchor="middle" stroke-width="0.7" textLength="18.2" lengthAdjust="spacing" transform="translate(332.3 569.4) translate(0 3.67) scale(0.88 1)">940</text>
<line x1="350.4" y1="523.8" x2="375.9" y2="523.8" stroke-width="1.6"/>
<line x1="350.4" y1="529.2" x2="375.9" y2="529.2" stroke-width="1.6"/>
<line x1="369.9" y1="519.5" x2="369.9" y2="537.9" stroke-width="1.6"/>
<line x1="367.9" y1="525.8" x2="371.9" y2="521.8" stroke-width="1.4"/>
<line x1="367.9" y1="531.2" x2="371.9" y2="527.2" stroke-width="1.4"/>
<text x="0" y="0" font-size="9" text-anchor="middle" stroke-width="0.7" textLength="12.7" lengthAdjust="spacing" transform="translate(363.5 516.0) rotate(-90) translate(0 3.15) scale(0.75 1)">40</text>
<text x="0" y="0" font-size="14.5" text-anchor="middle" stroke-width="1" textLength="30.6" lengthAdjust="spacing" transform="translate(493.5 278.0) translate(0 5.07) scale(0.72 1)">2-2</text>
<polyline points="475.4,404.0 475.4,317.1 479.1,317.1 480.1,310.9 488.2,310.9 489.7,319.6 498.5,319.6 498.5,404.0" stroke-width="1.8" fill="none"/>
<polyline points="482.0,317.0 483.0,313.8 486.5,313.8 487.5,320.0" stroke-width="1.55" fill="none"/>
<line x1="479.0" y1="323.7" x2="496.5" y2="323.7" stroke-width="1.6"/>
<line x1="479.5" y1="323.7" x2="479.5" y2="399.0" stroke-width="2.4"/>
<line x1="495.0" y1="323.7" x2="495.0" y2="399.0" stroke-width="2.4"/>
<line x1="479.5" y1="398.5" x2="495.0" y2="398.5" stroke-width="2.4"/>
<line x1="475.4" y1="403.8" x2="498.5" y2="403.8" stroke-width="1.6"/>
<rect x="476.5" y="394.0" width="4.0" height="8.0" stroke-width="1.2" fill="none"/>
<rect x="491.5" y="396.0" width="4.5" height="6.0" stroke-width="1.2" fill="none"/>
<line x1="481.0" y1="323.7" x2="481.0" y2="330.0" stroke-width="2"/>
<line x1="492.5" y1="323.7" x2="492.5" y2="330.0" stroke-width="2"/>
<polyline points="488.6,399.3 512.3,367.1 512.3,444.6 497.7,455.5" stroke-width="1.55" fill="none"/>
<text x="0" y="0" font-size="11.5" text-anchor="middle" stroke-width="0.5" textLength="72.5" lengthAdjust="spacing" transform="translate(505.5 412.0) rotate(-90) translate(0 4.02) scale(0.8 1)">АБНР А-41-Б</text>
<line x1="475.6" y1="403.8" x2="475.6" y2="480.8" stroke-width="1.8"/>
<rect x="484.1" y="406.9" width="14.1" height="52.7" stroke-width="1.4" fill="none"/>
<line x1="482.4" y1="404.0" x2="482.4" y2="459.6" stroke-width="1.55"/>
<polyline points="475.6,459.6 499.0,459.6 498.2,472.2 485.6,472.2 483.5,479.5 475.6,480.8" stroke-width="1.8" fill="none"/>
<rect x="481.1" y="464.6" width="14.1" height="7.1" rx="2" stroke-width="1.8" fill="none"/>
<polyline points="479.0,466.0 478.0,476.0 482.0,477.0" stroke-width="1.55" fill="none"/>
<line x1="490.7" y1="311.0" x2="535.0" y2="311.0" stroke-width="1.6"/>
<line x1="531.0" y1="308.0" x2="531.0" y2="484.0" stroke-width="1.6"/>
<line x1="528.5" y1="313.3" x2="533.5" y2="308.3" stroke-width="1.4"/>
<line x1="528.5" y1="409.1" x2="533.5" y2="404.1" stroke-width="1.4"/>
<line x1="528.5" y1="462.1" x2="533.5" y2="457.1" stroke-width="1.4"/>
<line x1="528.5" y1="483.7" x2="533.5" y2="478.7" stroke-width="1.4"/>
<line x1="527.0" y1="406.6" x2="535.0" y2="406.6" stroke-width="1.55"/>
<line x1="499.0" y1="459.6" x2="535.0" y2="459.6" stroke-width="1.6"/>
<line x1="486.0" y1="480.8" x2="535.0" y2="480.8" stroke-width="1.6"/>
<line x1="498.2" y1="472.2" x2="511.3" y2="472.2" stroke-width="1.55"/>
<line x1="510.3" y1="459.6" x2="510.3" y2="480.8" stroke-width="1.55"/>
<text x="0" y="0" font-size="10.5" text-anchor="middle" stroke-width="0.7" textLength="23.1" lengthAdjust="spacing" transform="translate(525.5 366.9) rotate(-90) translate(0 3.67) scale(0.8 1)">1615</text>
<text x="0" y="0" font-size="11" text-anchor="middle" stroke-width="0.6" textLength="18.2" lengthAdjust="spacing" transform="translate(524.6 435.3) rotate(-90) translate(0 3.85) scale(0.88 1)">910</text>
<text x="0" y="0" font-size="11" text-anchor="middle" stroke-width="0.6" textLength="18.2" lengthAdjust="spacing" transform="translate(524.6 469.7) rotate(-90) translate(0 3.85) scale(0.88 1)">375</text>
<text x="0" y="0" font-size="8" text-anchor="middle" stroke-width="0.6" textLength="13.8" lengthAdjust="spacing" transform="translate(506.3 464.1) rotate(-90) translate(0 2.80) scale(0.8 1)">125</text>
<circle cx="436.8" cy="380.2" r="14.6" stroke-width="1.8" fill="none"/>
<line x1="421.0" y1="380.2" x2="450.5" y2="380.2" stroke-width="1.7"/>
<text x="0" y="0" font-size="10.5" text-anchor="middle" stroke-width="0.6" transform="translate(436.8 373.4) translate(0 3.67) scale(0.85 1)">21</text>
<text x="0" y="0" font-size="10.5" text-anchor="middle" stroke-width="0.6" transform="translate(436.8 387.8) translate(0 3.67) scale(0.85 1)">23</text>
<line x1="450.5" y1="380.2" x2="476.4" y2="395.0" stroke-width="1.55"/>
<circle cx="437.7" cy="445.6" r="15" stroke-width="1.8" fill="none"/>
<line x1="421.0" y1="445.6" x2="452.0" y2="445.6" stroke-width="1.7"/>
<text x="0" y="0" font-size="10.5" text-anchor="middle" stroke-width="0.6" transform="translate(437.7 438.8) translate(0 3.67) scale(0.85 1)">22</text>
<text x="0" y="0" font-size="10.5" text-anchor="middle" stroke-width="0.6" transform="translate(437.7 453.2) translate(0 3.67) scale(0.85 1)">23</text>
<line x1="452.0" y1="445.6" x2="475.6" y2="458.4" stroke-width="1.55"/>
<line x1="475.6" y1="481.0" x2="475.6" y2="539.7" stroke-width="1.6"/>
<line x1="498.2" y1="481.0" x2="498.2" y2="539.7" stroke-width="1.6"/>
<line x1="471.0" y1="504.0" x2="503.0" y2="504.0" stroke-width="1.6"/>
<line x1="473.1" y1="506.5" x2="478.1" y2="501.5" stroke-width="1.4"/>
<line x1="495.7" y1="506.5" x2="500.7" y2="501.5" stroke-width="1.4"/>
<line x1="471.0" y1="519.7" x2="503.0" y2="519.7" stroke-width="1.6"/>
<line x1="473.1" y1="522.2" x2="478.1" y2="517.2" stroke-width="1.4"/>
<line x1="495.7" y1="522.2" x2="500.7" y2="517.2" stroke-width="1.4"/>
<line x1="471.0" y1="537.7" x2="503.0" y2="537.7" stroke-width="1.6"/>
<line x1="473.1" y1="540.2" x2="478.1" y2="535.2" stroke-width="1.4"/>
<line x1="495.7" y1="540.2" x2="500.7" y2="535.2" stroke-width="1.4"/>
<text x="0" y="0" font-size="11" text-anchor="middle" stroke-width="0.6" textLength="19.3" lengthAdjust="spacing" transform="translate(489.7 495.7) translate(0 3.85) scale(0.88 1)">300</text>
<text x="0" y="0" font-size="11" text-anchor="middle" stroke-width="0.6" textLength="19.3" lengthAdjust="spacing" transform="translate(489.7 512.6) translate(0 3.85) scale(0.88 1)">350</text>
<text x="0" y="0" font-size="11" text-anchor="middle" stroke-width="0.6" textLength="19.3" lengthAdjust="spacing" transform="translate(489.7 529.7) translate(0 3.85) scale(0.88 1)">400</text>
</svg>
</body></html>
